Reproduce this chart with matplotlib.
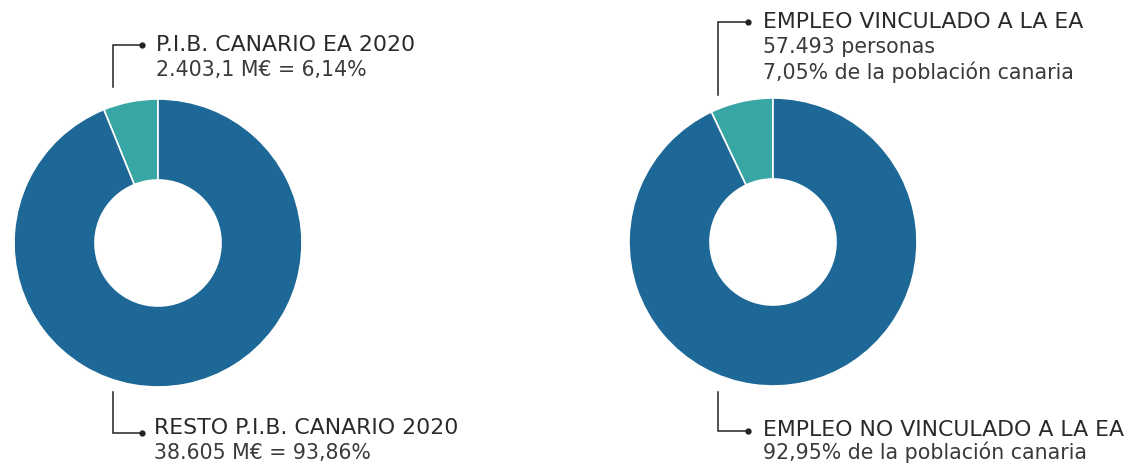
import matplotlib
matplotlib.use("Agg")
import matplotlib.pyplot as plt

# Data
pib_labels = ["P.I.B. CANARIO EA 2020", "RESTO P.I.B. CANARIO 2020"]
pib_values = [6.14, 93.86]
pib_sub = [["2.403,1 M€ = 6,14%"], ["38.605 M€ = 93,86%"]]

emp_labels = ["EMPLEO VINCULADO A LA EA", "EMPLEO NO VINCULADO A LA EA"]
emp_values = [7.05, 92.95]
emp_sub = [["57.493 personas", "7,05% de la población canaria"],
           ["92,95% de la población canaria"]]

colors = ["#38a6a5", "#1d6896"]

W, H = 1134, 465
fig = plt.figure(figsize=(W / 100, H / 100), dpi=100)
ax = fig.add_axes([0, 0, 1, 1])

def Y(p):
    return H - p

R_OUT, R_IN = 144, 63
font = "DejaVu Sans"

def donut(cx, cy, values):
    ax.pie(values, colors=colors, startangle=90, counterclock=True,
           center=(cx, Y(cy)), radius=R_OUT,
           wedgeprops=dict(width=R_OUT - R_IN, edgecolor="white", linewidth=1.2))

donut(158, 243, pib_values)
donut(773, 242, emp_values)

def connector(x, y0, y1, x1, ytext, title, subs, tx, step=25):
    ax.plot([x, x, x1], [Y(y0), Y(y1), Y(y1)], color="#222222", lw=1.1,
            solid_joinstyle="miter")
    ax.plot([x1], [Y(y1)], "o", color="#222222", ms=3.5)
    ax.text(tx, Y(ytext), title, fontsize=15.8, color="#2a2a2a",
            family=font, va="center", ha="left")
    for i, s in enumerate(subs):
        ax.text(tx, Y(ytext + step * (i + 1)), s, fontsize=14.8, color="#3a3a3a",
                family=font, va="center", ha="left")

connector(113, 87, 45, 142, 45, pib_labels[0], pib_sub[0], 156)
connector(113, 392, 433, 142, 428, pib_labels[1], pib_sub[1], 154)
connector(718, 95, 22, 748, 22, emp_labels[0], emp_sub[0], 763)
connector(718, 392, 431, 748, 430, emp_labels[1], emp_sub[1], 763, step=22)

ax.set_xlim(0, W)
ax.set_ylim(0, H)
ax.set_aspect("equal")
ax.axis("off")

fig.savefig("out.png", dpi=100, facecolor="white")
